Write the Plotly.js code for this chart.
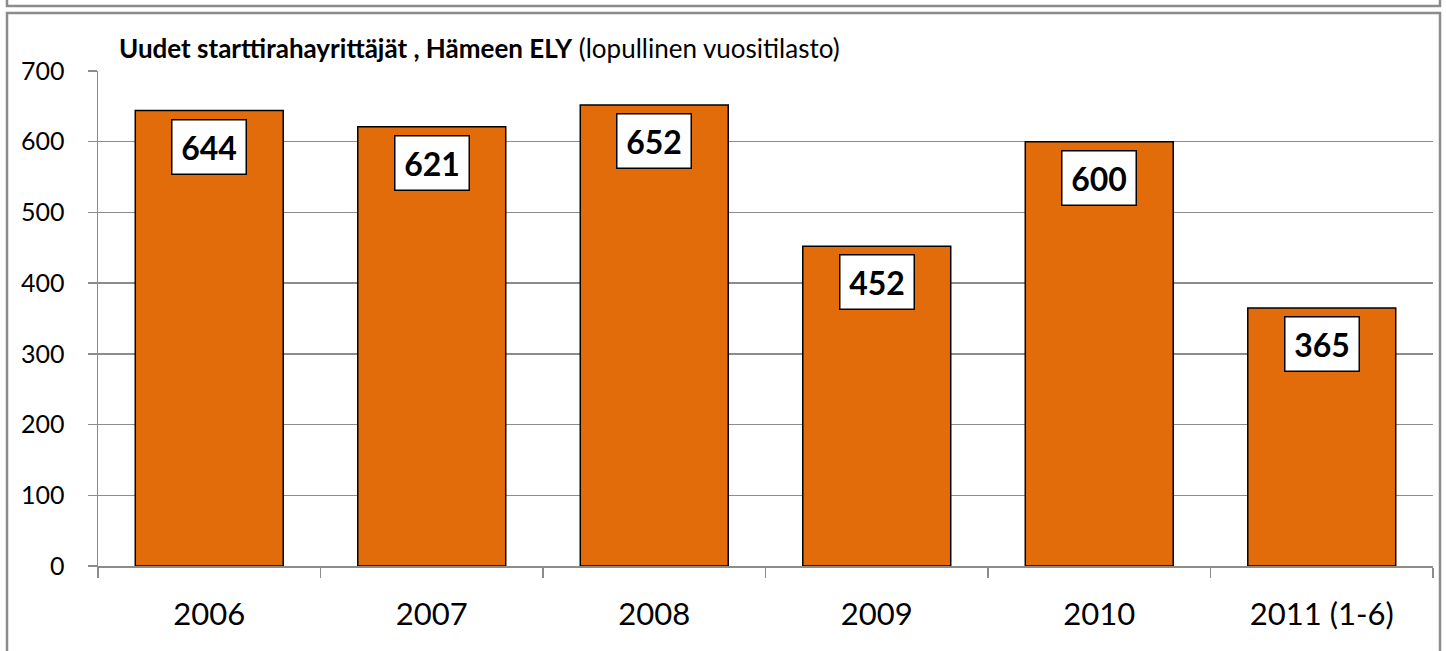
<!DOCTYPE html>
<html>
<head>
<meta charset="utf-8">
<script src="https://cdn.plot.ly/plotly-3.0.1.min.js"></script>
<style>
html,body{margin:0;padding:0;background:#fff;}
#chart{width:1446px;height:651px;}
</style>
</head>
<body>
<div id="chart"></div>
<script>
const categories = ["2006", "2007", "2008", "2009", "2010", "2011 (1-6)"];
const values = [644, 621, 652, 452, 600, 365];
const yTicks = [0, 100, 200, 300, 400, 500, 600, 700];
const titleBold = "Uudet starttirahayrittäjät , Hämeen ELY";
const titleRest = " (lopullinen vuositilasto)";

const W = 1446, H = 651;
const mL = 98, mR = 13, mT = 71, mB = 85;
const pw = W - mL - mR, ph = H - mT - mB;
const px = x => (x - mL) / pw;
const py = y => (H - mB - y) / ph;

const FONT = "Lato, 'Open Sans', sans-serif";
const grey = "#8c8c8c";

const trace = {
  type: "bar",
  x: categories,
  y: values,
  marker: {color: "#E36C0A", line: {color: "#000", width: 1.5}},
  hoverinfo: "skip"
};

const annotations = categories.map((c, i) => ({
  x: i, y: values[i], xref: "x", yref: "y",
  text: "<b>" + values[i] + "</b>",
  showarrow: false, yanchor: "top", yshift: -8,
  font: {family: FONT, size: 32, color: "#000"},
  bgcolor: "#fff", bordercolor: "#000", borderwidth: 1.5,
  borderpad: 7, width: 59, height: 39
}));

annotations.push({
  xref: "paper", yref: "paper", x: px(117), y: py(48),
  xanchor: "left", yanchor: "middle", showarrow: false,
  text: "<b>" + titleBold + "</b>" + titleRest,
  font: {family: FONT, size: 26, color: "#000"}
});

const shapes = [
  {type: "rect", xref: "paper", yref: "paper",
   x0: px(7), x1: px(1440), y0: py(662), y1: py(13),
   line: {color: grey, width: 2.5}, fillcolor: "rgba(0,0,0,0)", layer: "below"},
  {type: "rect", xref: "paper", yref: "paper",
   x0: px(7), x1: px(1440), y0: py(6), y1: py(-20),
   line: {color: grey, width: 2.5}, fillcolor: "rgba(0,0,0,0)", layer: "below"}
];

const layout = {
  width: W, height: H,
  margin: {l: mL, r: mR, t: mT, b: mB, pad: 0},
  paper_bgcolor: "#fff", plot_bgcolor: "#fff",
  showlegend: false,
  bargap: 0.335,
  font: {family: FONT, color: "#000"},
  xaxis: {
    type: "category",
    tickson: "boundaries", ticks: "outside", ticklen: 10, tickcolor: grey, tickwidth: 1.5,
    showline: true, linecolor: grey, linewidth: 1.5,
    showgrid: false, zeroline: false,
    tickfont: {family: FONT, size: 31, color: "#000"},
    ticklabelstandoff: 20,
    range: [-0.5, 5.5], fixedrange: true
  },
  yaxis: {
    range: [0, 700], tickvals: yTicks, ticktext: yTicks.map(String),
    ticks: "outside", ticklen: 9, tickcolor: grey, tickwidth: 1.5,
    showline: true, linecolor: grey, linewidth: 1.5,
    showgrid: true, gridcolor: grey, gridwidth: 1.3,
    zeroline: false,
    tickfont: {family: FONT, size: 25, color: "#000"},
    ticklabelstandoff: 18, fixedrange: true
  },
  annotations: annotations,
  shapes: shapes
};

Plotly.newPlot("chart", [trace], layout, {displayModeBar: false, staticPlot: true});
</script>
</body>
</html>
